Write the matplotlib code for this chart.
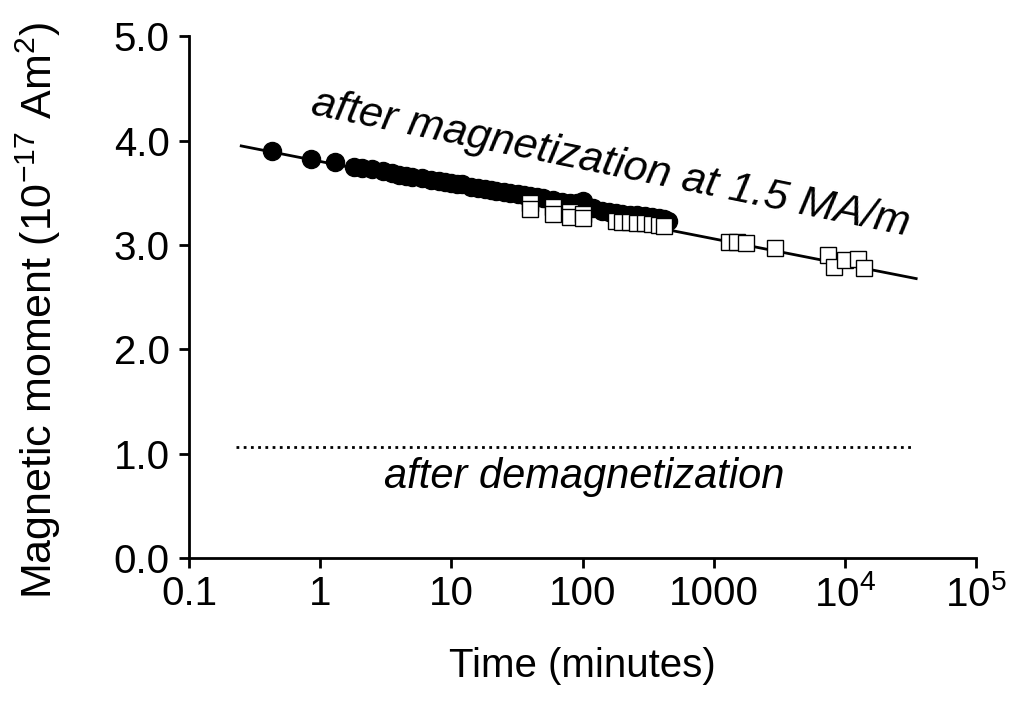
import matplotlib.pyplot as plt
import numpy as np

plt.rcParams['font.family'] = ['Liberation Sans', 'DejaVu Sans']
plt.rcParams['mathtext.default'] = 'regular'

# after magnetization, first run (filled circles)
t_fill = [0.43, 0.85, 1.3, 1.8, 2.1, 2.5, 3.0, 3.5, 4.0, 4.5, 5.0, 6.0, 7.0, 8.0,
          9.0, 10, 11, 12, 14, 16, 18, 20, 22, 25, 28, 32, 36, 40, 45, 50, 60,
          70, 80, 90, 100, 120, 140, 160, 180, 200, 230, 260, 300, 340, 380, 420, 450]
m_fill = [3.90, 3.82, 3.79, 3.75, 3.74, 3.73, 3.71, 3.69, 3.67, 3.66, 3.65, 3.64, 3.62, 3.61,
          3.60, 3.59, 3.58, 3.58, 3.56, 3.55, 3.54, 3.53, 3.52, 3.51, 3.50, 3.49, 3.48, 3.47, 3.46, 3.45, 3.43,
          3.41, 3.40, 3.40, 3.42, 3.35, 3.33, 3.32, 3.31, 3.30, 3.29, 3.29, 3.28, 3.27, 3.26, 3.25, 3.23]

# second run (open squares)
t_open = [40, 40, 60, 60, 80, 80, 100, 100, 180, 200, 230, 260, 300, 340, 380, 420,
          1300, 1500, 1750, 2950, 7500, 8200, 10000, 12500, 14000]
m_open = [3.40, 3.34, 3.36, 3.30, 3.32, 3.27, 3.30, 3.26, 3.23, 3.22, 3.22, 3.21, 3.21, 3.20, 3.19, 3.18,
          3.03, 3.03, 3.02, 2.97, 2.90, 2.79, 2.86, 2.87, 2.78]

# logarithmic fit and demagnetized level
fit_t = [0.25, 35000]
fit_a, fit_b = 3.80, -0.247
demag_t = [0.23, 33000]
demag_level = 1.06

xticks = [0.1, 1, 10, 100, 1000, 1e4, 1e5]
xticklabels = ['0.1', '1', '10', '100', '1000', '10$^4$', '10$^5$']
yticks = [0.0, 1.0, 2.0, 3.0, 4.0, 5.0]

fig = plt.figure(figsize=(10.24, 7.10), dpi=100)
ax = fig.add_axes([0.1846, 0.214, 0.7685, 0.735])

ax.plot(fit_t, [fit_a + fit_b * np.log10(t) for t in fit_t], color='black', lw=2, zorder=2)
ax.plot(t_fill, m_fill, 'o', color='black', markersize=13, zorder=3)
ax.plot(t_open, m_open, 's', mfc='white', mec='black', mew=1.0, markersize=11, zorder=4)
ax.plot(demag_t, [demag_level, demag_level], color='black', lw=2, linestyle=(0, (1, 1.6)))

ax.set_xscale('log')
ax.set_xlim(0.1, 1e5)
ax.set_ylim(0, 5)
ax.set_xticks(xticks)
ax.set_xticklabels(xticklabels)
ax.xaxis.set_minor_locator(plt.NullLocator())
ax.set_yticks(yticks)
ax.set_yticklabels([f'{v:.1f}' for v in yticks])

for s in ['top', 'right']:
    ax.spines[s].set_visible(False)
for s in ['left', 'bottom']:
    ax.spines[s].set_linewidth(2)
ax.tick_params(width=2, length=7, labelsize=29, color='black')
ax.tick_params(axis='y', pad=7)
ax.tick_params(axis='x', pad=5)

ax.set_xlabel('Time (minutes)', fontsize=29, labelpad=24)
ax.set_ylabel('Magnetic moment (10$^{-17}$ Am$^2$)', fontsize=31)
ax.yaxis.set_label_coords(-0.16, 0.475)

ax.text(165, 3.77, 'after magnetization at 1.5 MA/m', fontsize=31, style='italic',
        rotation=-11.5, ha='center', va='center', rotation_mode='anchor')
ax.text(103, 0.78, 'after demagnetization', fontsize=30, style='italic',
        ha='center', va='center')

fig.savefig('out.png', dpi=100)
